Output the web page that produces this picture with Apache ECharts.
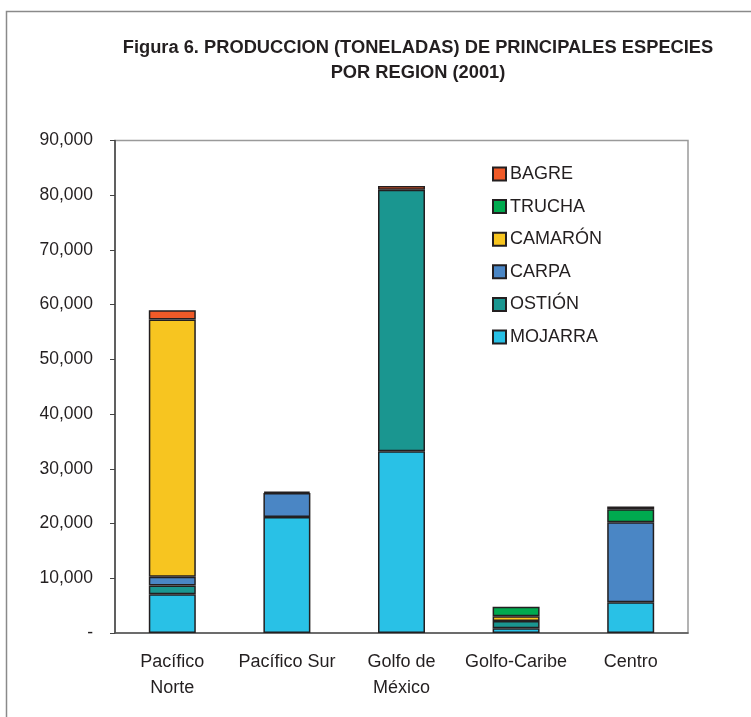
<!DOCTYPE html>
<html>
<head>
<meta charset="utf-8">
<script src="https://cdn.jsdelivr.net/npm/echarts@6/dist/echarts.min.js"></script>
<style>
  html, body { margin: 0; padding: 0; background: #fff; }
  #chart { width: 751px; height: 717px; }
</style>
</head>
<body>
<div id="chart"></div>
<script>
// Regions (x axis) and production by species, tonnes (2001)
const regions = ['Pacífico\nNorte', 'Pacífico Sur', 'Golfo de\nMéxico', 'Golfo-Caribe', 'Centro'];
const mojarra = [7100, 21200, 33200, 850, 5600];
const ostion  = [1600, null, 47800, 1350, null];
const carpa   = [1600, 4400, null, null, 14650];
const camaron = [47000, null, null, 850, null];
const trucha  = [null, null, null, 1750, 2350];
const bagre   = [1700, 250, 700, null, 500];

const yTicks = { min: 0, max: 90000, interval: 10000 };

const font = '"Liberation Sans", Arial, sans-serif';
const edge = '#231F20';

function layer(name, data, color) {
  return {
    name: name,
    type: 'bar',
    stack: 'total',
    barWidth: '41%',
    data: data,
    itemStyle: { color: color, borderColor: edge, borderWidth: 1.5 },
    emphasis: { disabled: true }
  };
}

const chart = echarts.init(document.getElementById('chart'), null, { renderer: 'canvas' });
chart.setOption({
  animation: false,
  backgroundColor: '#fff',
  graphic: [{
    type: 'rect',
    shape: { x: 6.5, y: 11.5, width: 800, height: 800 },
    style: { fill: 'none', stroke: '#8a8a8a', lineWidth: 1.5 },
    silent: true, z: -10
  }],
  title: {
    text: 'Figura 6. PRODUCCION (TONELADAS) DE PRINCIPALES ESPECIES\nPOR REGION (2001)',
    left: 413, top: 30, textAlign: 'center',
    textStyle: { fontFamily: font, fontWeight: 'bold', fontSize: 18.3, color: edge, lineHeight: 25 }
  },
  legend: {
    orient: 'vertical',
    left: 492, top: 165, padding: 0,
    itemWidth: 13, itemHeight: 13, itemGap: 14.6,
    icon: 'rect',
    data: ['BAGRE', 'TRUCHA', 'CAMARÓN', 'CARPA', 'OSTIÓN', 'MOJARRA'],
    textStyle: { fontFamily: font, fontSize: 18, color: edge, padding: [0, 0, 0, -1] }
  },
  grid: {
    left: 115, top: 140.5, right: 63, bottom: 84,
    show: true, borderColor: '#9a9a9a', borderWidth: 1.5, backgroundColor: 'transparent'
  },
  xAxis: {
    type: 'category',
    data: regions,
    axisLine: { lineStyle: { color: '#555', width: 1.5 } },
    axisTick: { length: 5, lineStyle: { color: '#555' } },
    axisLabel: { fontFamily: font, fontSize: 18, color: edge, margin: 16, lineHeight: 26, interval: 0 }
  },
  yAxis: {
    type: 'value',
    min: yTicks.min, max: yTicks.max, interval: yTicks.interval,
    splitLine: { show: false },
    axisLine: { show: true, lineStyle: { color: '#444', width: 1.5 } },
    axisTick: { show: true, length: 5, lineStyle: { color: '#444' } },
    axisLabel: {
      fontFamily: font, fontSize: 17.5, color: edge, margin: 22,
      formatter: v => v === 0 ? '-' : v.toLocaleString('en-US')
    }
  },
  series: [
    layer('MOJARRA', mojarra, '#29C1E6'),
    layer('OSTIÓN', ostion, '#1A9690'),
    layer('CARPA', carpa, '#4A86C5'),
    layer('CAMARÓN', camaron, '#F7C520'),
    layer('TRUCHA', trucha, '#00AA4F'),
    layer('BAGRE', bagre, '#F05A28')
  ]
});
</script>
</body>
</html>
